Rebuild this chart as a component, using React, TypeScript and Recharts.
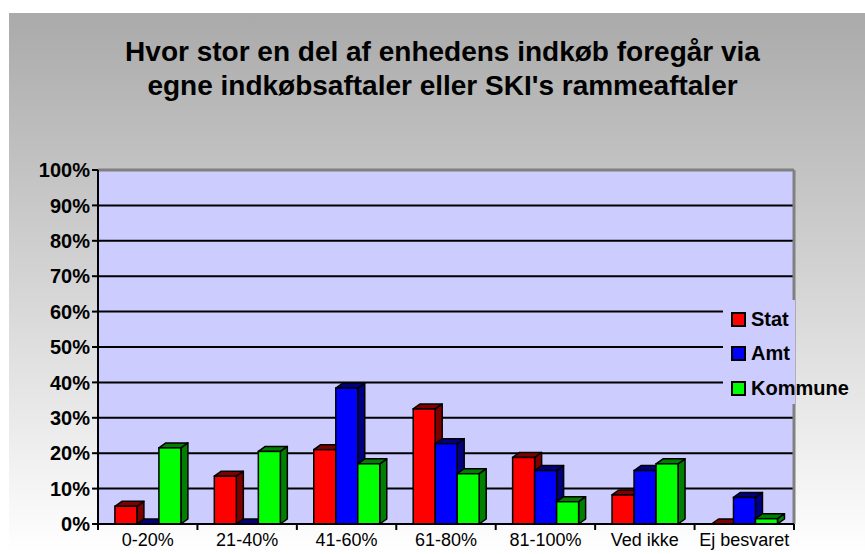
import { BarChart, Bar, XAxis, YAxis, CartesianGrid, Legend } from 'recharts';

const categories = ['0-20%', '21-40%', '41-60%', '61-80%', '81-100%', 'Ved ikke', 'Ej besvaret'];
const stat = [5, 13.5, 21, 32.5, 18.8, 8.2, 0];
const amt = [0, 0, 38.4, 22.7, 15.1, 15.1, 7.5];
const kommune = [21.5, 20.5, 17, 14.2, 6.3, 17, 1.5];
const yTicks = [0, 10, 20, 30, 40, 50, 60, 70, 80, 90, 100];

const series = [
  { key: 'Stat', fill: '#ff0000', dark: '#800000' },
  { key: 'Amt', fill: '#0000ff', dark: '#000080' },
  { key: 'Kommune', fill: '#00ff00', dark: '#008000' },
];

const data = categories.map((c, i) => ({
  name: c,
  Stat: stat[i],
  Amt: amt[i],
  Kommune: kommune[i],
}));

const W = 865;
const H = 554;
const M = { top: 170, right: 71, bottom: 0, left: 0 };
const Y_W = 98;
const BAND = (W - M.right - Y_W) / categories.length;

function Bar3D(props: any) {
  const { x, y, width, height, fill, dark } = props;
  const dx = 7;
  const dy = 5;
  const r = x + width;
  const b = y + height;
  return (
    <g>
      <polygon
        points={`${r},${y} ${r + dx},${y - dy} ${r + dx},${b - dy} ${r},${b}`}
        fill={dark}
        stroke="#000"
        strokeWidth={1.5}
        strokeLinejoin="round"
      />
      <polygon
        points={`${x},${y} ${x + dx},${y - dy} ${r + dx},${y - dy} ${r},${y}`}
        fill={dark}
        stroke="#000"
        strokeWidth={1.5}
        strokeLinejoin="round"
      />
      {height > 0 && (
        <rect x={x} y={y} width={width} height={height} fill={fill} stroke="#000" strokeWidth={1.5} />
      )}
    </g>
  );
}

function XTick(props: any) {
  const { x, y, payload, index } = props;
  const half = BAND / 2;
  return (
    <g>
      <line x1={x - half} y1={y - 8} x2={x - half} y2={y - 2} stroke="#000" strokeWidth={2} />
      {index === categories.length - 1 && (
        <line x1={x + half} y1={y - 8} x2={x + half} y2={y - 2} stroke="#000" strokeWidth={2} />
      )}
      <text x={x} y={y + 14} textAnchor="middle" fontSize={18} fontFamily="Arial, 'Liberation Sans'" fill="#000">
        {payload.value}
      </text>
    </g>
  );
}

function LegendBox() {
  return (
    <div
      style={{
        background: 'linear-gradient(to right, #ccccff 72px, transparent 72px)',
        height: 104,
        paddingLeft: 8,
        paddingTop: 2,
        boxSizing: 'border-box',
      }}
    >
      {series.map((s) => (
        <div key={s.key} style={{ display: 'flex', alignItems: 'center', height: 34.5 }}>
          <span
            style={{
              display: 'inline-block',
              width: 11,
              height: 11,
              background: s.fill,
              border: '2px solid #000',
              marginRight: 5,
            }}
          />
          <span style={{ fontFamily: "Arial, 'Liberation Sans'", fontWeight: 'bold', fontSize: 20, color: '#000' }}>
            {s.key}
          </span>
        </div>
      ))}
    </div>
  );
}

export default function App() {
  return (
    <div style={{ position: 'absolute', left: 0, top: 0, width: W, height: H }}>
      <div
        style={{
          position: 'absolute',
          left: 9,
          top: 13,
          right: 0,
          bottom: 0,
          background: 'linear-gradient(to bottom, #aaaaaa, #ffffff)',
        }}
      />
      <div
        style={{
          position: 'absolute',
          left: 0,
          top: 35,
          width: 885,
          textAlign: 'center',
          fontFamily: "Arial, 'Liberation Sans'",
          fontWeight: 'bold',
          fontSize: 28,
          lineHeight: '34px',
          color: '#000',
        }}
      >
        Hvor stor en del af enhedens indkøb foregår via
        <br />
        egne indkøbsaftaler eller SKI's rammeaftaler
      </div>
      <div style={{ position: 'absolute', left: 0, top: 0 }}>
        <BarChart width={W} height={H} data={data} margin={M} barCategoryGap="17%" barGap={0}>
          <CartesianGrid vertical={false} stroke="#000" strokeWidth={2} fill="#ccccff" fillOpacity={1} />
          <CartesianGrid
            stroke="#808080"
            strokeWidth={3}
            horizontalCoordinatesGenerator={({ offset }: any) => [offset.top]}
            verticalCoordinatesGenerator={({ offset }: any) => [offset.left + offset.width]}
          />
          <XAxis
            dataKey="name"
            height={30}
            axisLine={{ stroke: '#000', strokeWidth: 2 }}
            tickLine={false}
            tick={<XTick />}
            interval={0}
          />
          <YAxis
            width={Y_W}
            domain={[0, 100]}
            ticks={yTicks}
            interval={0}
            tickFormatter={(v) => `${v}%`}
            axisLine={{ stroke: '#000', strokeWidth: 2 }}
            tickLine={{ stroke: '#000', strokeWidth: 2 }}
            tickSize={6}
            tickMargin={2}
            tick={{ fill: '#000', fontSize: 20, fontWeight: 'bold', fontFamily: "Arial, 'Liberation Sans'" }}
          />
          <Legend
            layout="vertical"
            align="center"
            verticalAlign="middle"
            content={<LegendBox />}
            wrapperStyle={{ left: 723, top: 300, width: 142, height: 104 }}
          />
          {series.map((s) => (
            <Bar
              key={s.key}
              dataKey={s.key}
              fill={s.fill}
              isAnimationActive={false}
              shape={(p: any) => <Bar3D {...p} fill={s.fill} dark={s.dark} />}
            />
          ))}
        </BarChart>
      </div>
    </div>
  );
}
